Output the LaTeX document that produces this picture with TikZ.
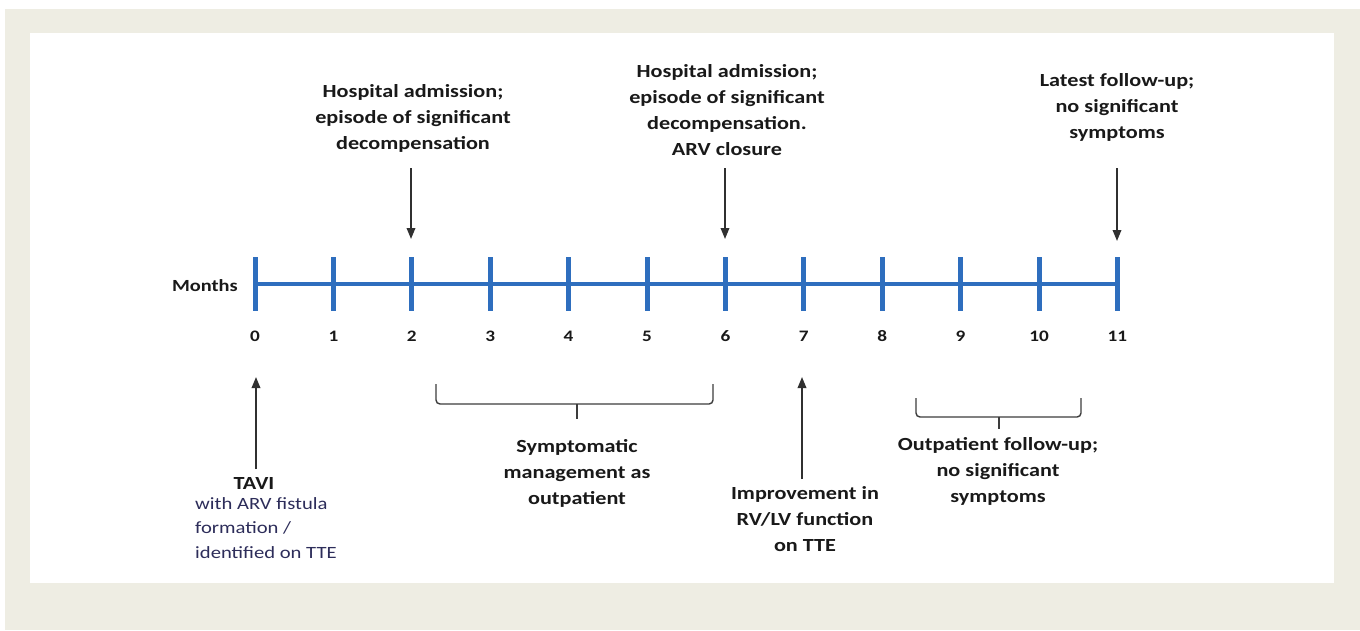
\documentclass[tikz,border=0pt]{standalone}
\usepackage{fontspec}
\setmainfont{Carlito}[FakeStretch=1.2]
\usetikzlibrary{arrows.meta}
\definecolor{beige}{RGB}{238,237,227}
\definecolor{axisblue}{RGB}{46,110,190}
\definecolor{subtxt}{RGB}{45,45,90}
\definecolor{ink}{RGB}{25,25,25}
\begin{document}
\begin{tikzpicture}[x=1pt,y=-1pt,
  lbl/.style={font=\fontsize{18.5}{26}\selectfont\bfseries, align=center, text=ink, inner sep=0pt, anchor=base},
  num/.style={font=\fontsize{16}{18}\selectfont\bfseries, text=ink, inner sep=0pt, anchor=base},
  sub/.style={font=\fontsize{17.2}{24.5}\selectfont, align=left, text=subtxt, inner sep=0pt, anchor=base west},
  axisline/.style={draw=axisblue, line width=4.5pt},
  tickline/.style={draw=axisblue, line width=5pt},
  arr/.style={draw=ink!90, line width=1.8pt, -{Triangle[length=11pt,width=8.5pt]}},
  bracket/.style={draw=ink!85, line width=1.4pt, rounded corners=4pt},
]
% background and panel
\useasboundingbox (0,0) rectangle (1360,630);
\fill[white] (0,0) rectangle (1360,630);
\fill[beige] (5,9) rectangle (1360,630);
\fill[white] (30,33) rectangle (1334,583);

% timeline
\foreach \i in {0,...,11} {
  \coordinate (t\i) at ({255+78.4*\i},284);
}
\draw[axisline] (t0) -- (t11);
\foreach \i in {0,...,11} {
  \draw[tickline] ([yshift=27pt]t\i) -- ([yshift=-27pt]t\i);
  \node[num] (n\i) at ({255+78.4*\i},341) {\i};
}
\node[font=\fontsize{17}{20}\selectfont\bfseries, text=ink, inner sep=0pt, anchor=base east] (months) at (238,291) {Months};

% top labels (anchored at the baseline of their last line)
\node[lbl] (hosp1) at (413,149) {Hospital admission;\\episode of significant\\decompensation};
\node[lbl] (hosp2) at (727,155) {Hospital admission;\\episode of significant\\decompensation.\\ARV closure};
\node[lbl] (latest) at (1117,138) {Latest follow-up;\\no significant\\symptoms};

\coordinate (a2s) at (411,168); \coordinate (a2e) at (411,239);
\coordinate (a6s) at (725,168); \coordinate (a6e) at (725,239);
\coordinate (a11s) at (1117,168); \coordinate (a11e) at (1117,241);
\draw[arr] (a2s) -- (a2e);
\draw[arr] (a6s) -- (a6e);
\draw[arr] (a11s) -- (a11e);

% bottom: TAVI
\node[lbl] (tavi) at (254,489) {TAVI};
\node[sub] (tavisub) at (195,558) {with ARV fistula\\formation /\\identified on TTE};
\coordinate (a0s) at (256,469); \coordinate (a0e) at (256,377);
\draw[arr] (a0s) -- (a0e);

% bottom: improvement
\node[lbl] (improve) at (805,551) {Improvement in\\RV/LV function\\on TTE};
\coordinate (a7s) at (802,479); \coordinate (a7e) at (802,377);
\draw[arr] (a7s) -- (a7e);

% brackets
\draw[bracket] (436,384) -- (436,404) -- (713,404) -- (713,384);
\draw[bracket] (577,404) -- (577,419);
\node[lbl] (symp) at (577,504) {Symptomatic\\management as\\outpatient};

\draw[bracket] (916,398) -- (916,417) -- (1081,417) -- (1081,398);
\draw[bracket] (999,417) -- (999,429);
\node[lbl] (outpt) at (998,502) {Outpatient follow-up;\\no significant\\symptoms};
\end{tikzpicture}
\end{document}
